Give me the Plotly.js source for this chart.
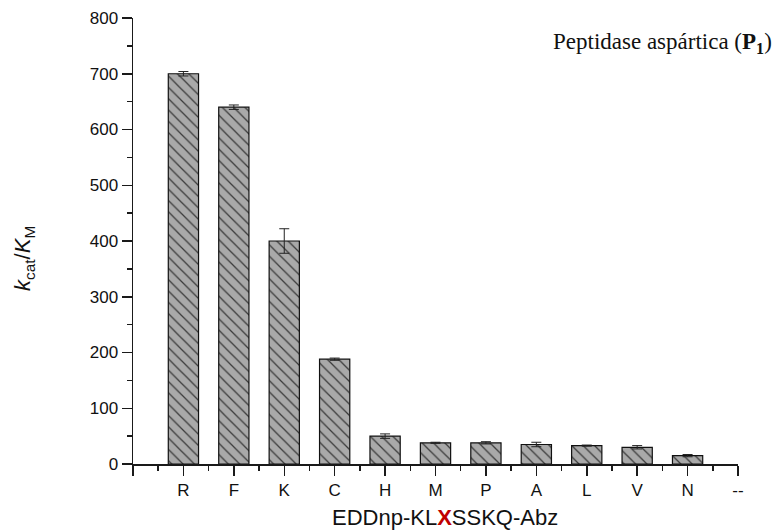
<!DOCTYPE html>
<html>
<head>
<meta charset="utf-8">
<script src="https://cdn.plot.ly/plotly-3.0.1.min.js"></script>
<style>html,body{margin:0;padding:0;background:#fff;}#chart{width:776px;height:532px;}</style>
</head>
<body>
<div id="chart"></div>
<script>
const categories = ['R','F','K','C','H','M','P','A','L','V','N'];
const values = [700, 640, 400, 188, 50, 38, 38, 35, 33, 30, 15];
const errors = [4, 4, 22, 2, 4, 1, 2, 4, 1, 3, 2];
const tickLabels = ['', 'R','F','K','C','H','M','P','A','L','V','N','--'];

const xPos = categories.map((c, i) => tickLabels.indexOf(c));
const tickVals = tickLabels.map((t, i) => i);

const trace = {
  type: 'bar',
  x: xPos,
  y: values,
  width: 0.6,
  marker: {
    color: '#a9a9a9',
    line: {color: '#111', width: 1.2},
    pattern: {shape: '\\', bgcolor: '#a9a9a9', fgcolor: '#3a3a3a', size: 8, solidity: 0.16}
  },
  error_y: {type: 'data', array: errors, visible: true, color: '#222', thickness: 1, width: 5},
  hoverinfo: 'skip'
};

const axisColor = '#1a1a1a';
const layout = {
  width: 776, height: 532,
  margin: {l: 133, r: 38, t: 18, b: 68},
  paper_bgcolor: '#fff', plot_bgcolor: '#fff',
  showlegend: false,
  bargap: 0.4,
  font: {family: 'Liberation Sans, Arial, sans-serif', color: '#111'},
  xaxis: {
    range: [0, 12],
    tickmode: 'array', tickvals: tickVals, ticktext: tickLabels,
    ticks: 'outside', ticklen: 10, tickwidth: 1.5, tickcolor: axisColor,
    minor: {tickmode: 'linear', tick0: 0, dtick: 0.5, ticks: 'outside', ticklen: 5, tickwidth: 1.5, tickcolor: axisColor, showgrid: false},
    showline: true, linecolor: axisColor, linewidth: 1.5,
    showgrid: false, zeroline: false,
    tickfont: {size: 17, color: '#111'},
    fixedrange: true
  },
  yaxis: {
    range: [0, 800],
    tickmode: 'linear', tick0: 0, dtick: 100,
    ticks: 'outside', ticklen: 10, tickwidth: 1.5, tickcolor: axisColor,
    minor: {tickmode: 'linear', tick0: 0, dtick: 50, ticks: 'outside', ticklen: 5, tickwidth: 1.5, tickcolor: axisColor, showgrid: false},
    showline: true, linecolor: axisColor, linewidth: 1.5,
    showgrid: false, zeroline: false,
    tickfont: {size: 17, color: '#111'},
    fixedrange: true
  },
  annotations: [
    {
      text: 'Peptidase aspártica (<b>P<sub>1</sub></b>)',
      xref: 'paper', yref: 'paper', x: 1.06, y: 0.945, xanchor: 'right', yanchor: 'middle',
      showarrow: false,
      font: {family: 'Liberation Serif, Times New Roman, serif', size: 23, color: '#111'}
    },
    {
      text: '<i>k</i><sub>cat</sub>/<i>K</i><sub>M</sub>',
      xref: 'paper', yref: 'paper', x: -0.18, y: 0.46, xanchor: 'center', yanchor: 'middle',
      textangle: -90, showarrow: false,
      font: {family: 'Liberation Sans, Arial, sans-serif', size: 22, color: '#111'}
    },
    {
      text: 'EDDnp-KL<b><span style="color:#c00000">X</span></b>SSKQ-Abz',
      xref: 'paper', yref: 'paper', x: 0.515, y: -0.12, xanchor: 'center', yanchor: 'middle',
      showarrow: false,
      font: {family: 'Liberation Sans, Arial, sans-serif', size: 22, color: '#111'}
    }
  ]
};

Plotly.newPlot('chart', [trace], layout, {displayModeBar: false, staticPlot: true});
</script>
</body>
</html>
